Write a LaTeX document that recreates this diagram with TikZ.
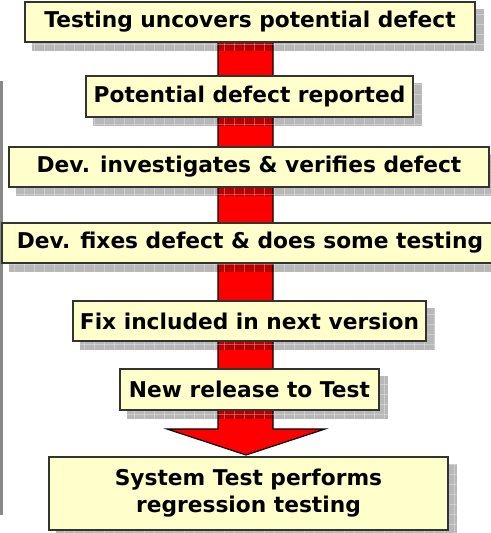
\documentclass[tikz,border=0pt]{standalone}
\usepackage{fontspec}
\setmainfont{DejaVu Sans}
\usetikzlibrary{backgrounds}
\definecolor{boxfill}{HTML}{FFFFCC}
\definecolor{boxline}{HTML}{333333}
\definecolor{sidebar}{HTML}{888888}
\definecolor{arrowred}{HTML}{FF0000}
\tikzset{
  box/.style={draw=boxline, line width=1.2pt, fill=boxfill, inner sep=0pt, align=center,
    font=\bfseries\fontsize{16.3}{20.3}\selectfont},
  bw/.style={minimum width={0.75pt*#1}},
  bh/.style={minimum height={0.75pt*#1}},
  boxshade/.style={fill=black, fill opacity=0.28},
  gridline/.style={draw=white, draw opacity=0.3, line width=0.75pt},
}
\newcommand\dropshade[1]{%
  \begin{scope}
    \clip ([shift={(8,8)}]#1.north west) rectangle ([shift={(8,8)}]#1.south east);
    \fill[boxshade] ([shift={(8,8)}]#1.north west) rectangle ([shift={(8,8)}]#1.south east);
    \foreach \gx in {4,14,...,494} \draw[gridline] (\gx,0) -- (\gx,533);
    \foreach \gy in {4,14,...,534} \draw[gridline] (0,\gy) -- (491,\gy);
  \end{scope}}
\begin{document}
\begin{tikzpicture}[x=0.75pt,y=-0.75pt]
\useasboundingbox (0,0) rectangle (491,533);
\clip (0,0) rectangle (491,533);
\fill[sidebar] (0,81) rectangle (3,515);
\node[box, bw=450, bh=40] (b1) at (250,22) {Testing uncovers potential defect};
\node[box, bw=327, bh=41] (b2) at (249.5,96.5) {Potential defect reported};
\node[box, bw=480, bh=40] (b3) at (249,167) {Dev. investigates \& verifies defect};
\node[box, bw=496, bh=40] (b4) at (250,243) {Dev. fixes defect \& does some testing};
\node[box, bw=353, bh=40] (b5) at (249.5,321) {Fix included in next version};
\node[box, bw=259, bh=41] (b6) at (249.5,389.5) {New release to Test};
\node[box, bw=399, bh=73] (b7) at (248.5,493.5) {System Test performs\\regression testing};
\begin{scope}[on background layer]
  \draw[fill=arrowred, draw=black, line width=0.9pt, line join=miter]
    (218,40) -- (218,429) -- (167,429) -- (246,455) -- (325,429) -- (273,429) -- (273,40) -- cycle;
  \dropshade{b1}
  \dropshade{b2}
  \dropshade{b3}
  \dropshade{b4}
  \dropshade{b5}
  \dropshade{b6}
  \dropshade{b7}
\end{scope}
\end{tikzpicture}
\end{document}
